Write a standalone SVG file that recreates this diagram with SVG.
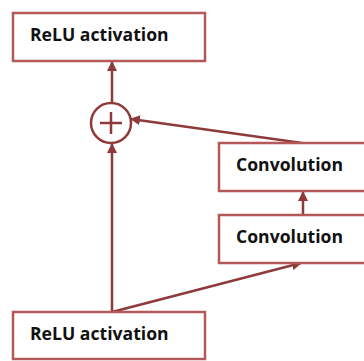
<svg xmlns="http://www.w3.org/2000/svg" width="364" height="361" viewBox="0 0 364 361">
<style>
.box{fill:#fff;stroke:#B5585A;stroke-width:2.5}
.lbl{font-family:"Open Sans","Liberation Sans",sans-serif;font-weight:bold;font-size:17.6px;fill:#111}
.ln{stroke:#8E3A3A;stroke-width:2.5;fill:none}
</style>
<defs>
<marker id="ah" viewBox="0 0 10 10" refX="9" refY="5" markerWidth="4" markerHeight="4" orient="auto" markerUnits="strokeWidth">
<path d="M0,0 L10,5 L0,10 z" fill="#8E3A3A"/>
</marker>
</defs>
<rect width="364" height="361" fill="#fff"/>
<g id="connectors">
<line class="ln" x1="112" y1="312" x2="112" y2="144" marker-end="url(#ah)"/>
<line class="ln" x1="112" y1="102" x2="112" y2="62" marker-end="url(#ah)"/>
<line class="ln" x1="302" y1="143" x2="131" y2="119" marker-end="url(#ah)"/>
<line class="ln" x1="112" y1="312" x2="301" y2="263" marker-end="url(#ah)"/>
<line class="ln" x1="303" y1="214" x2="303" y2="192" marker-end="url(#ah)"/>
</g>
<g id="relu-top">
<rect class="box" x="13" y="13" width="192" height="48"/>
<text class="lbl" x="30" y="41">ReLU activation</text>
</g>
<g id="add">
<circle cx="111" cy="123" r="20" fill="#fff" stroke="#8E3A3A" stroke-width="2.5"/>
<path d="M100,123 H122 M111,112 V134" stroke="#8E3A3A" stroke-width="2.5"/>
</g>
<g id="conv-upper">
<rect class="box" x="219" y="143" width="160" height="48"/>
<text class="lbl" x="236" y="171">Convolution</text>
</g>
<g id="conv-lower">
<rect class="box" x="219" y="215" width="160" height="48"/>
<text class="lbl" x="236" y="243">Convolution</text>
</g>
<g id="relu-bottom">
<rect class="box" x="13" y="312" width="192" height="47"/>
<text class="lbl" x="30" y="340">ReLU activation</text>
</g>
</svg>
